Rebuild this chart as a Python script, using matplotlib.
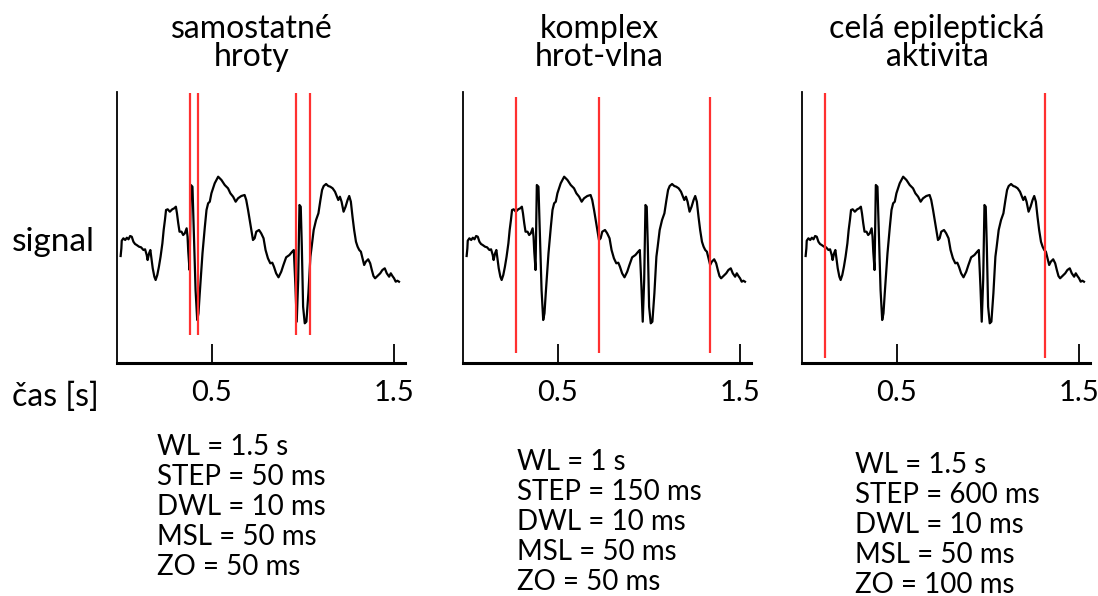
import matplotlib
matplotlib.use('Agg')
import matplotlib.pyplot as plt
import numpy as np

plt.rcParams['font.family'] = ['Lato', 'DejaVu Sans']

# Úsek EEG signálu - čas [ms] a amplituda [a.u.]
t_ms = [0, 4, 6, 15, 25, 34, 43, 52, 61, 70, 79, 88, 101, 112, 125, 134, 143, 148,
        156, 163, 170, 176, 185, 192, 201, 210, 219, 229, 236, 243, 249, 258, 270,
        283, 294, 303, 309, 316, 323, 334, 343, 352, 362, 367, 371, 378, 385, 394,
        401, 411, 420, 427, 434, 449, 462, 471, 480,
        489, 498, 516, 535, 553, 571, 589, 602, 617, 631, 644, 662, 680, 689, 699,
        708, 717, 726, 735, 744, 759, 771, 784, 795, 808, 821, 832, 841, 853, 866,
        881, 893, 908, 926, 941, 950,
        959, 966, 974, 981, 988, 994, 1001, 1010, 1019,
        1030, 1041, 1048, 1059, 1072, 1085, 1096, 1105, 1114, 1127, 1139, 1150, 1163,
        1176, 1187, 1194, 1203, 1212, 1223, 1234, 1245, 1254, 1263, 1272, 1281, 1291,
        1300, 1309, 1318, 1327, 1336, 1345, 1358, 1369, 1378, 1387, 1396, 1409, 1424,
        1436, 1449, 1460, 1473, 1482, 1491, 1500, 1509, 1518, 1527]
signal = [107, 114.7, 122.3, 124.7, 123, 125.3, 123.7, 127, 126.3, 121.3, 119, 118,
          116.3, 115.7, 113, 113.7, 108, 103, 109.7, 113, 103, 94.7, 86.3, 83, 88,
          96.3, 106.3, 119.7, 133, 143, 153, 153.7, 151.3, 153.7, 154.7, 156.3, 149.7,
          139.7, 131.3, 131.3, 128, 129.7, 134.7, 126.3, 111.3, 93, 178, 176.3, 133,
          73, 43, 49.7, 69.7, 109.7, 136.3, 153, 159.7,
          161.3, 169.7, 179.7, 186.3, 183, 178, 174.7, 169.7, 166.3, 161.3, 164.7, 167,
          168, 163, 153, 143, 133, 123, 124.7, 131.3, 133, 129.7, 124.7, 113, 104.7,
          99.7, 100.3, 96.3, 89.7, 85.7, 91.3, 98, 105.7, 108, 111.3, 113,
          76.3, 41.3, 83, 158, 156.3, 116.3, 56.3, 39.7, 41.3,
          69.7, 106.3, 116.3, 133, 143, 149.7, 163, 173, 177, 179, 177, 176.3, 174.7,
          171.3, 166.3, 163, 166.3, 161.3, 151.3, 156.3, 163, 167, 161.3, 146.3, 133,
          121.3, 116.3, 113, 111.3, 104.7, 98, 101.3, 103.7, 99.7, 93, 87, 84.7, 87,
          89.7, 93, 94.7, 89.7, 86.3, 89.7, 87, 84.7, 81.3, 82.3, 81.3]
t = np.array(t_ms) / 1000

titles = ['samostatné\nhroty', 'komplex\nhrot-vlna', 'celá epileptická\naktivita']

# hranice detekovaných úseků [s]
marks = [[0.380, 0.427, 0.963, 1.039],
         [0.269, 0.728, 1.336],
         [0.107, 1.314]]
mark_lo = [28, 10, 5]
mark_hi = [270, 266, 270]

params = [["WL = 1.5 s", "STEP = 50 ms", "DWL = 10 ms", "MSL = 50 ms", "ZO = 50 ms"],
          ["WL = 1 s", "STEP = 150 ms", "DWL = 10 ms", "MSL = 50 ms", "ZO = 50 ms"],
          ["WL = 1.5 s", "STEP = 600 ms", "DWL = 10 ms", "MSL = 50 ms", "ZO = 100 ms"]]

W, H = 1098, 596
fig = plt.figure(figsize=(W / 100, H / 100), dpi=100)

ax_left = [117, 463, 802]
title_x = [252, 599, 937]
param_x = [157, 517, 855]
param_y = [447, 462, 465]

for i in range(3):
    ax = fig.add_axes([ax_left[i] / W, 1 - 363 / H, 288 / W, 271 / H])
    ax.plot(t, signal, color='black', lw=1.6)
    ax.vlines(marks[i], mark_lo[i], mark_hi[i], color='#ff3030', lw=1.6)
    ax.set_xlim(-0.02, 1.56)
    ax.set_ylim(0, 271)
    ax.spines['top'].set_visible(False)
    ax.spines['right'].set_visible(False)
    ax.spines['left'].set_linewidth(1.3)
    ax.spines['bottom'].set_linewidth(2.2)
    ax.set_xticks([0.5, 1.5])
    ax.set_xticklabels(['0.5', '1.5'])
    ax.set_yticks([])
    ax.tick_params(axis='x', direction='in', length=14, width=1.3, pad=12,
                   labelsize=21)

    fig.text(title_x[i] / W, 1 - 43 / H, titles[i], ha='center', va='center',
             fontsize=23, linespacing=0.92)
    for j, line in enumerate(params[i]):
        fig.text(param_x[i] / W, 1 - (param_y[i] + 30 * j) / H, line,
                 ha='left', va='center', fontsize=20)

fig.text(12 / W, 1 - 242 / H, 'signal', ha='left', va='center', fontsize=24)
fig.text(12 / W, 1 - 397 / H, 'čas [s]', ha='left', va='center', fontsize=23)

fig.savefig('out.png', dpi=100)
